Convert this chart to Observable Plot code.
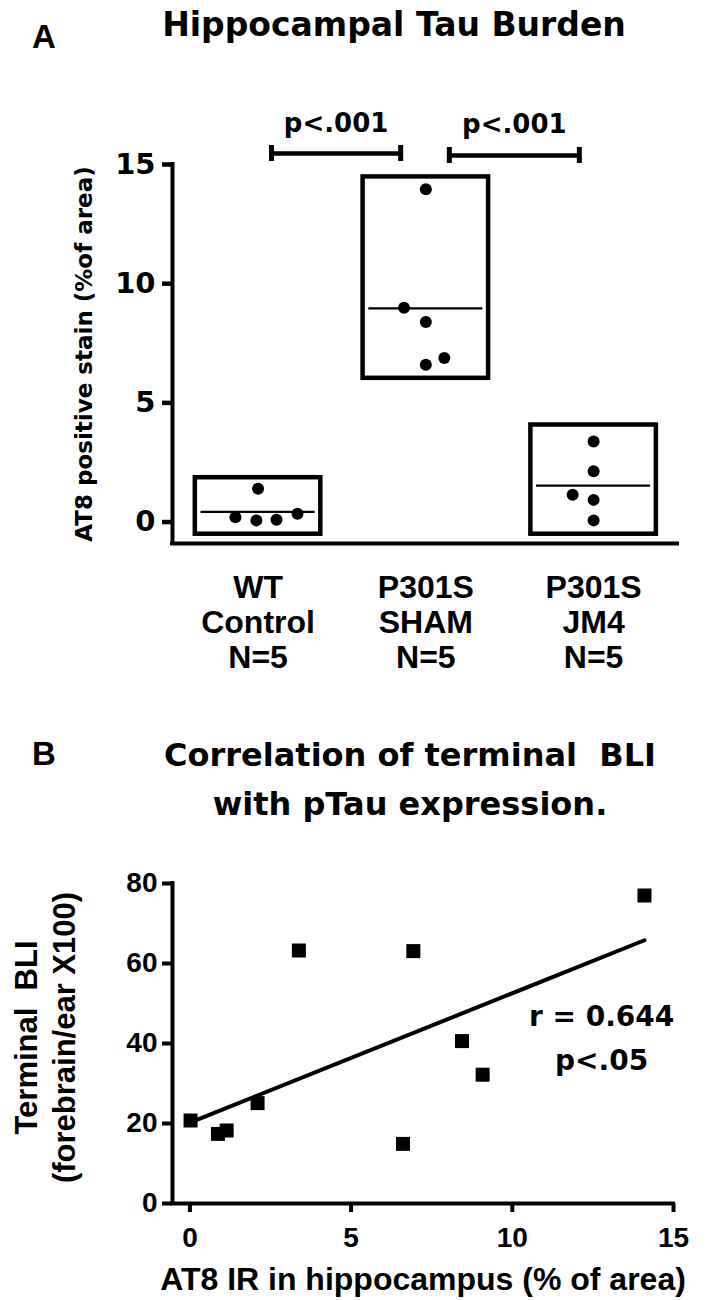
<!DOCTYPE html>
<html>
<head>
<meta charset="utf-8">
<script src="https://cdn.jsdelivr.net/npm/d3@7"></script>
<script src="https://cdn.jsdelivr.net/npm/@observablehq/plot@0.6"></script>
<style>
html, body { margin: 0; padding: 0; background: #fff; }
#page { position: relative; width: 727px; height: 1300px; overflow: hidden; background: #fff; }
.abs { position: absolute; white-space: nowrap; color: #000; }
.letter { font-family: "Liberation Sans", Arial, sans-serif; font-weight: bold; font-size: 33px; line-height: 33px; }
.title { font-family: "DejaVu Sans", sans-serif; font-weight: bold; font-size: 32px; line-height: 49px; text-align: center; transform: translateX(-50%); }
.chart { position: absolute; left: 0; }
</style>
</head>
<body>
<div id="page">
  <div class="abs letter" style="left:32px; top:20px;">A</div>
  <div class="abs title" style="left:394px; top:0px; font-size:33px;">Hippocampal Tau Burden</div>
  <div class="abs letter" style="left:32px; top:737px;">B</div>
  <div class="abs title" style="left:410px; top:731px;">Correlation of terminal&nbsp; BLI<br>with pTau expression.</div>
  <div id="chartA" class="chart" style="top:60px;"></div>
  <div id="chartB" class="chart" style="top:830px;"></div>
</div>
<script>
// ---------- Panel A data ----------
const groupNames = ["WT Control", "P301S SHAM", "P301S JM4"];
const groupLabels = ["WT\nControl\nN=5", "P301S\nSHAM\nN=5", "P301S\nJM4\nN=5"];
const groupPos = [1, 2, 3];
const wtValues = [1.4, 0.2, 0.07, 0.1, 0.35];
const wtSpread = [0, -0.135, -0.01, 0.11, 0.235];
const shamValues = [13.96, 8.99, 8.39, 6.88, 6.6];
const shamSpread = [0, -0.13, 0, 0.11, 0];
const jm4Values = [3.38, 2.13, 1.15, 0.93, 0.07];
const jm4Spread = [0, 0, -0.125, 0, 0];
const boxLow = [-0.51, 6.03, -0.51];
const boxHigh = [1.86, 14.48, 4.07];
const yTicksA = [0, 5, 10, 15];
const yDomainA = [-0.9, 15];
const xDomainA = [0.49, 3.5];
const bracketFrom = [1.08, 2.14];
const bracketTo = [1.85, 2.915];
const bracketAt = [15.46, 15.38];
const bracketLabels = ["p<.001", "p<.001"];
const yLabelA = "AT8 positive stain (%of area)";

// ---------- Panel B data ----------
const at8IR = [0.02, 0.87, 1.14, 2.1, 3.38, 6.61, 6.93, 8.44, 9.08, 14.1];
const terminalBLI = [20.75, 17.4, 18.25, 25.1, 63.25, 14.9, 63.1, 40.6, 32.2, 77];
const xTicksB = [0, 5, 10, 15];
const yTicksB = [0, 20, 40, 60, 80];
const xDomainB = [-0.54, 15];
const yDomainB = [0, 80];
const statLabels = ["r = 0.644", "p<.05"];
const statX = [12.77, 12.77];
const statY = [46.5, 35.6];
const yLabelB = "Terminal\u00a0 BLI\n(forebrain/ear X100)";
const xLabelB = "AT8 IR in hippocampus (% of area)";

// ---------- styles ----------
const SANS = "'Liberation Sans', Arial, sans-serif";
const HUM = "'DejaVu Sans', sans-serif";
const boxHalf = 0.374;
const meanHalf = 0.34;

// ---------- build Panel A ----------
const valuesByGroup = [wtValues, shamValues, jm4Values];
const spreadByGroup = [wtSpread, shamSpread, jm4Spread];
const groups = groupNames.map((name, i) => ({
  name, label: groupLabels[i], pos: groupPos[i],
  lo: boxLow[i], hi: boxHigh[i], mean: d3.mean(valuesByGroup[i])
}));
const dotsA = groups.flatMap((g, i) =>
  valuesByGroup[i].map((v, j) => ({pos: g.pos + spreadByGroup[i][j], value: v}))
);
const brackets = bracketFrom.map((f, i) => ({from: f, to: bracketTo[i], y: bracketAt[i], label: bracketLabels[i]}));
const bracketEnds = brackets.flatMap(b => [{x: b.from, y: b.y}, {x: b.to, y: b.y}]);

const plotA = Plot.plot({
  width: 727, height: 640,
  marginTop: 104, marginBottom: 157, marginLeft: 172, marginRight: 50,
  x: {domain: xDomainA, axis: null},
  y: {domain: yDomainA, axis: null},
  style: {fontFamily: HUM, fontWeight: "bold", color: "black", background: "transparent", overflow: "visible"},
  marks: [
    Plot.rect(groups, {x1: d => d.pos - boxHalf, x2: d => d.pos + boxHalf, y1: "lo", y2: "hi", fill: "none", stroke: "black", strokeWidth: 4.5}),
    Plot.ruleY(groups, {y: "mean", x1: d => d.pos - meanHalf, x2: d => d.pos + meanHalf, stroke: "black", strokeWidth: 2.3}),
    Plot.dot(dotsA, {x: "pos", y: "value", r: 6, fill: "black"}),
    Plot.ruleX([xDomainA[0]], {stroke: "black", strokeWidth: 4, strokeLinecap: "square"}),
    Plot.ruleY([yDomainA[0]], {stroke: "black", strokeWidth: 4, strokeLinecap: "square"}),
    Plot.axisY(yTicksA, {anchor: "left", label: null, tickSize: 10, tickPadding: 7, strokeWidth: 4.5, fontSize: 29, fontFamily: HUM, fontWeight: "bold"}),
    Plot.text(groups, {x: "pos", frameAnchor: "bottom", text: "label", lineAnchor: "top", dy: 30, lineHeight: 1.094, fontSize: 32, fontFamily: SANS, fontWeight: "bold", fill: "black"}),
    Plot.text([yLabelA], {frameAnchor: "left", textAnchor: "middle", rotate: -90, dx: -88, lineAnchor: "middle", fontSize: 23, fontFamily: HUM, fontWeight: "bold", fill: "black"}),
    Plot.ruleY(brackets, {y: "y", x1: "from", x2: "to", stroke: "black", strokeWidth: 4.5}),
    Plot.ruleX(bracketEnds, {x: "x", y1: "y", y2: "y", insetTop: -8, insetBottom: -8, stroke: "black", strokeWidth: 5}),
    Plot.text(brackets, {x: d => (d.from + d.to) / 2, y: "y", text: "label", dy: -22, lineAnchor: "bottom", fontSize: 26, fontFamily: HUM, fontWeight: "bold", fill: "black"})
  ]
});
document.getElementById("chartA").appendChild(plotA);

// ---------- build Panel B ----------
const pointsB = at8IR.map((x, i) => ({ir: x, bli: terminalBLI[i]}));
const stats = statLabels.map((t, i) => ({text: t, x: statX[i], y: statY[i]}));

const plotB = Plot.plot({
  width: 727, height: 470,
  marginTop: 53, marginBottom: 97, marginLeft: 172, marginRight: 54,
  x: {domain: xDomainB, axis: null},
  y: {domain: yDomainB, axis: null},
  style: {fontFamily: SANS, fontWeight: "bold", color: "black", background: "transparent", overflow: "visible"},
  marks: [
    Plot.ruleX([xDomainB[0]], {stroke: "black", strokeWidth: 4, strokeLinecap: "square"}),
    Plot.ruleY([yDomainB[0]], {stroke: "black", strokeWidth: 4, strokeLinecap: "square"}),
    Plot.axisY(yTicksB, {anchor: "left", label: null, tickSize: 10, tickPadding: 5, strokeWidth: 4, fontSize: 28, fontFamily: SANS, fontWeight: "bold"}),
    Plot.axisX(xTicksB, {anchor: "bottom", label: null, tickSize: 9, tickPadding: 15, strokeWidth: 4, fontSize: 28, fontFamily: SANS, fontWeight: "bold"}),
    Plot.linearRegressionY(pointsB, {x: "ir", y: "bli", ci: 0, stroke: "black", strokeWidth: 4}),
    Plot.dot(pointsB, {x: "ir", y: "bli", symbol: "square", r: 7.9, fill: "black"}),
    Plot.text(stats, {x: "x", y: "y", text: "text", lineAnchor: "middle", fontSize: 28, fontFamily: HUM, fontWeight: "bold", fill: "black"}),
    Plot.text([yLabelB], {frameAnchor: "left", textAnchor: "middle", rotate: -90, dx: -129, dy: -6, lineAnchor: "middle", lineHeight: 1.25, fontSize: 31, fontFamily: SANS, fontWeight: "bold", fill: "black"}),
    Plot.text([xLabelB], {frameAnchor: "bottom", dy: 76, lineAnchor: "middle", fontSize: 32, fontFamily: SANS, fontWeight: "bold", fill: "black"})
  ]
});
document.getElementById("chartB").appendChild(plotB);
</script>
</body>
</html>
